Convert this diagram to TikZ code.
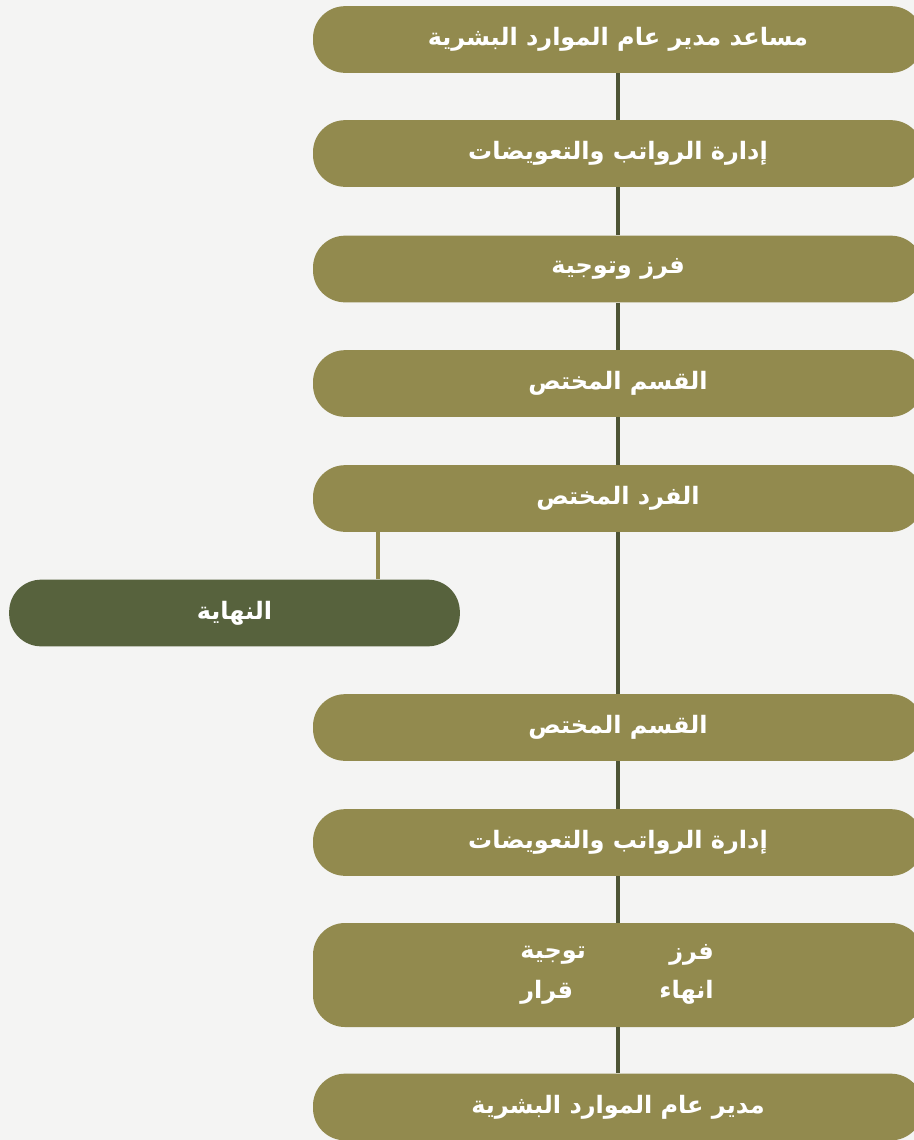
\documentclass[tikz,border=0pt]{standalone}
\usepackage{fontspec}
\TeXXeTstate=1
\newfontfamily\arabicfont[Script=Arabic]{DejaVu Sans}
\definecolor{olivebox}{HTML}{928A4E}
\definecolor{darkbox}{HTML}{57623D}
\definecolor{linkline}{HTML}{4E5435}
\definecolor{paper}{HTML}{F4F4F3}

\begin{document}
\begin{tikzpicture}[x=0.75pt,y=-0.75pt,
    every node/.style={text=white,font=\arabicfont\bfseries\fontsize{18}{21}\selectfont},
    stepbox/.style={fill=olivebox,rounded corners=24pt,minimum width=457.5pt,minimum height=50pt,inner sep=0pt},
    endbox/.style={stepbox,fill=darkbox,minimum width=338pt},
    cell/.style={inner sep=0pt},
    link/.style={draw=linkline,line width=3pt},
    branch/.style={draw=olivebox,line width=3pt}]
    \fill[paper] (0,0) rectangle (914,1140);
    \useasboundingbox (0,0) rectangle (914,1140);

    \node[stepbox] (asst) at (618,39.5) {\beginR مساعد مدير عام الموارد البشرية\endR};
    \node[stepbox] (pay1) at (618,153.5) {\beginR إدارة الرواتب والتعويضات\endR};
    \node[stepbox] (sort1) at (618,269) {\beginR فرز وتوجية\endR};
    \node[stepbox] (dept1) at (618,383.5) {\beginR القسم المختص\endR};
    \node[stepbox] (staff) at (618,498.5) {\beginR الفرد المختص\endR};
    \node[endbox] (finish) at (234.5,613) {\beginR النهاية\endR};
    \node[stepbox] (dept2) at (618,727.5) {\beginR القسم المختص\endR};
    \node[stepbox] (pay2) at (618,842.5) {\beginR إدارة الرواتب والتعويضات\endR};
    \node[stepbox,minimum height=78pt] (decide) at (618,975) {};
    \node[stepbox] (gm) at (618,1107) {\beginR مدير عام الموارد البشرية\endR};

    \node[cell,anchor=east] (sortw) at (714,955) {\beginR فرز\endR};
    \node[cell,anchor=west] (guide) at (520,955) {\beginR توجية\endR};
    \node[cell,anchor=east] (endw) at (714,992) {\beginR انهاء\endR};
    \node[cell,anchor=west] (order) at (520,992) {\beginR قرار\endR};

    \draw[link] (asst) -- (pay1);
    \draw[link] (pay1) -- (sort1);
    \draw[link] (sort1) -- (dept1);
    \draw[link] (dept1) -- (staff);
    \draw[link] (staff) -- (dept2);
    \draw[link] (dept2) -- (pay2);
    \draw[link] (pay2) -- (decide);
    \draw[link] (decide) -- (gm);

    \coordinate (fork) at (378,532);
    \draw[branch] (fork) -- (fork |- finish.north);

  \end{tikzpicture}
\end{document}
